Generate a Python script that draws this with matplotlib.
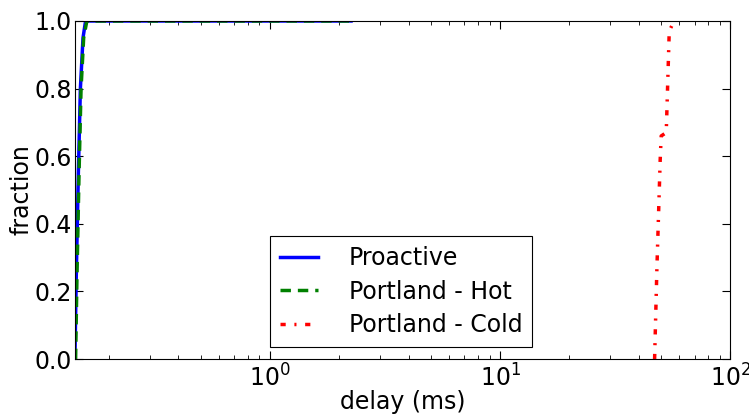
import matplotlib
matplotlib.use("Agg")
import matplotlib.pyplot as plt

# CDF points (delay in ms, cumulative fraction)
proactive_delay = [0.142, 0.144, 0.147, 0.150, 0.154, 0.158, 2.25]
proactive_frac = [0.0, 0.25, 0.55, 0.80, 0.95, 1.0, 1.0]

hot_delay = [0.143, 0.145, 0.148, 0.151, 0.155, 0.160, 2.25]
hot_frac = [0.0, 0.25, 0.55, 0.80, 0.95, 1.0, 1.0]

cold_delay = [46.9, 48.0, 49.0, 49.6, 50.1, 52.7, 54.3, 57.0]
cold_frac = [0.0, 0.27, 0.47, 0.59, 0.66, 0.67, 0.97, 1.0]

plt.rcParams['font.family'] = ['DejaVu Sans']
plt.rcParams['font.size'] = 17

fig = plt.figure(figsize=(7.49, 4.2), dpi=100)
ax = fig.add_axes([0.100, 0.145, 0.875, 0.805])

ax.plot(proactive_delay, proactive_frac, color='blue', lw=2.5, label='Proactive')
ax.plot(hot_delay, hot_frac, color='green', lw=2.5, ls='--', dashes=(3, 2), label='Portland - Hot')
ax.plot(cold_delay, cold_frac, color='red', lw=2.5, dashes=(1.5, 2.5, 0.6, 2.5), label='Portland - Cold')

ax.set_xscale('log')
ax.set_xlim(0.142, 100)
ax.set_ylim(0, 1.0)
ax.set_xlabel('delay (ms)', labelpad=-1)
ax.set_ylabel('fraction', labelpad=1)

ax.tick_params(which='both', direction='in', top=True, right=True)
ax.tick_params(which='major', length=6, labelsize=17)
ax.tick_params(axis='y', which='major', pad=2)
ax.tick_params(axis='x', which='major', pad=4)
ax.tick_params(which='minor', length=3)

leg = ax.legend(loc='lower left', bbox_to_anchor=(0.298, 0.036), borderaxespad=0,
                fontsize=17, frameon=True, fancybox=False, edgecolor='black',
                framealpha=1, handlelength=1.6, handletextpad=1.3,
                borderpad=0.42, labelspacing=0.4)
leg.get_frame().set_linewidth(0.8)

fig.savefig('out.png', dpi=100)
plt.close(fig)
